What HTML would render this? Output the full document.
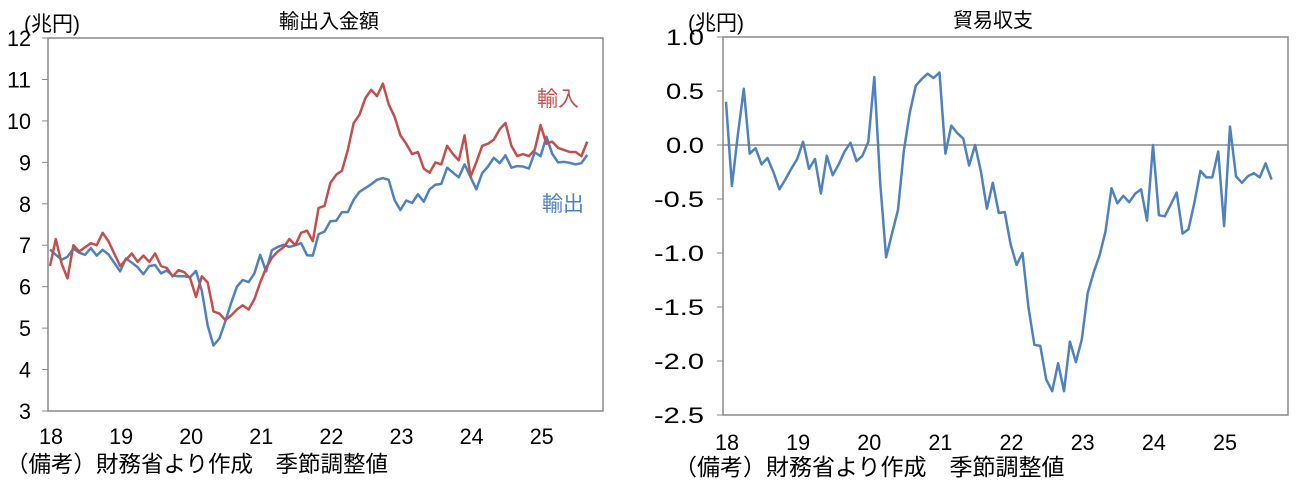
<!DOCTYPE html>
<html><head><meta charset="utf-8">
<style>
html,body{margin:0;padding:0;background:#fff;width:1311px;height:488px;overflow:hidden}
svg text{font-family:"Liberation Sans","Noto Sans CJK JP",sans-serif;fill:#000}
</style></head><body>
<svg id="s" width="1311" height="488" xmlns="http://www.w3.org/2000/svg">
<rect x="48" y="38" width="555" height="373" fill="none" stroke="#888" stroke-width="1.5"/>
<rect x="723" y="37" width="565" height="378" fill="none" stroke="#888" stroke-width="1.5"/>
<line x1="723" y1="145" x2="1288" y2="145" stroke="#888" stroke-width="1.5"/>
<text x="329" y="28" font-size="20" text-anchor="middle">輸出入金額</text>
<text x="993" y="27" font-size="20" text-anchor="middle">貿易収支</text>
<text x="24" y="31" font-size="21">(兆円)</text>
<text x="688" y="30" font-size="21">(兆円)</text>
<text x="537" y="106" font-size="21" style="fill:#c0504d">輸入</text>
<text x="542" y="211" font-size="21" style="fill:#4f81bd">輸出</text>
<text x="6" y="472" font-size="22.5">（備考）財務省より作成　季節調整値</text>
<text x="674" y="475" font-size="23">（備考）財務省より作成　季節調整値</text>
<g id="g"></g>
</svg>
<script>
var imp=[6.5,7.15,6.55,6.2,7.0,6.85,6.95,7.05,7.0,7.3,7.1,6.8,
6.5,6.65,6.8,6.6,6.75,6.6,6.8,6.5,6.45,6.25,6.4,6.35,
6.2,5.75,6.25,6.1,5.4,5.35,5.2,5.3,5.45,5.55,5.45,5.7,
6.1,6.45,6.7,6.85,6.95,7.15,7.0,7.3,7.35,7.1,7.9,7.95,
8.5,8.7,8.8,9.3,9.95,10.15,10.55,10.75,10.6,10.9,10.4,10.1,
9.65,9.45,9.2,9.25,8.85,8.75,9.0,8.95,9.4,9.2,9.05,9.65,
8.65,9.0,9.4,9.45,9.55,9.8,9.95,9.4,9.15,9.2,9.15,9.3,
9.9,9.45,9.5,9.35,9.3,9.25,9.25,9.15,9.5];
var bal=[0.40,-0.38,0.10,0.52,-0.08,-0.03,-0.18,-0.12,-0.25,-0.41,-0.32,-0.22,
-0.13,0.03,-0.22,-0.13,-0.45,-0.10,-0.28,-0.18,-0.06,0.02,-0.15,-0.10,
0.03,0.63,-0.35,-1.04,-0.82,-0.60,-0.05,0.30,0.55,0.61,0.66,0.62,
0.67,-0.08,0.18,0.11,0.06,-0.19,0.00,-0.25,-0.59,-0.35,-0.63,-0.62,
-0.92,-1.11,-1.00,-1.5,-1.85,-1.86,-2.17,-2.28,-2.02,-2.28,-1.82,-2.01,
-1.80,-1.37,-1.18,-1.02,-0.80,-0.40,-0.54,-0.47,-0.53,-0.45,-0.41,-0.70,
0.00,-0.65,-0.66,-0.55,-0.44,-0.82,-0.78,-0.53,-0.24,-0.30,-0.30,-0.06,
-0.75,0.17,-0.29,-0.35,-0.29,-0.26,-0.30,-0.17,-0.32];
var h='';
function pl(arr,x0,dx,fy,c){var p=arr.map(function(v,i){return (x0+i*dx).toFixed(1)+','+fy(v).toFixed(1)}).join(' ');
return '<polyline points="'+p+'" fill="none" stroke="'+c+'" stroke-width="2.5" stroke-linejoin="round"/>';}
var ly=function(v){return 411-(v-3)*41.44};
var exp=imp.map(function(v,i){return v+bal[i]});
h+=pl(exp,50,5.84,ly,'#4f81bd');
h+=pl(imp,50,5.84,ly,'#c0504d');
h+=pl(bal,726,5.93,function(v){return 145-v*108},'#4f81bd');
for(var k=3;k<=12;k++){var y=ly(k);var w=k>=10?24:12;h+='<line x1="42" y1="'+y+'" x2="48" y2="'+y+'" stroke="#888"/><text x="'+(31-w)+'" y="'+(y+8)+'" font-size="22" textLength="'+w+'" lengthAdjust="spacingAndGlyphs">'+k+'</text>';}
var rl=['1.0','0.5','0.0','-0.5','-1.0','-1.5','-2.0','-2.5'];
for(var k=0;k<8;k++){var y=37+k*54;var w=rl[k].length>3?50:38;h+='<line x1="717" y1="'+y+'" x2="723" y2="'+y+'" stroke="#888"/><text x="'+(704-w)+'" y="'+(y+8)+'" font-size="22" textLength="'+w+'" lengthAdjust="spacingAndGlyphs">'+rl[k]+'</text>';}
for(var k=0;k<8;k++){h+='<text x="'+(51+k*70.1-12)+'" y="444" font-size="22" textLength="24" lengthAdjust="spacingAndGlyphs">'+(18+k)+'</text>';
h+='<text x="'+(727+k*71.14-12)+'" y="450" font-size="22" textLength="24" lengthAdjust="spacingAndGlyphs">'+(18+k)+'</text>';}
document.getElementById('g').innerHTML=h;
</script>
</body></html>
